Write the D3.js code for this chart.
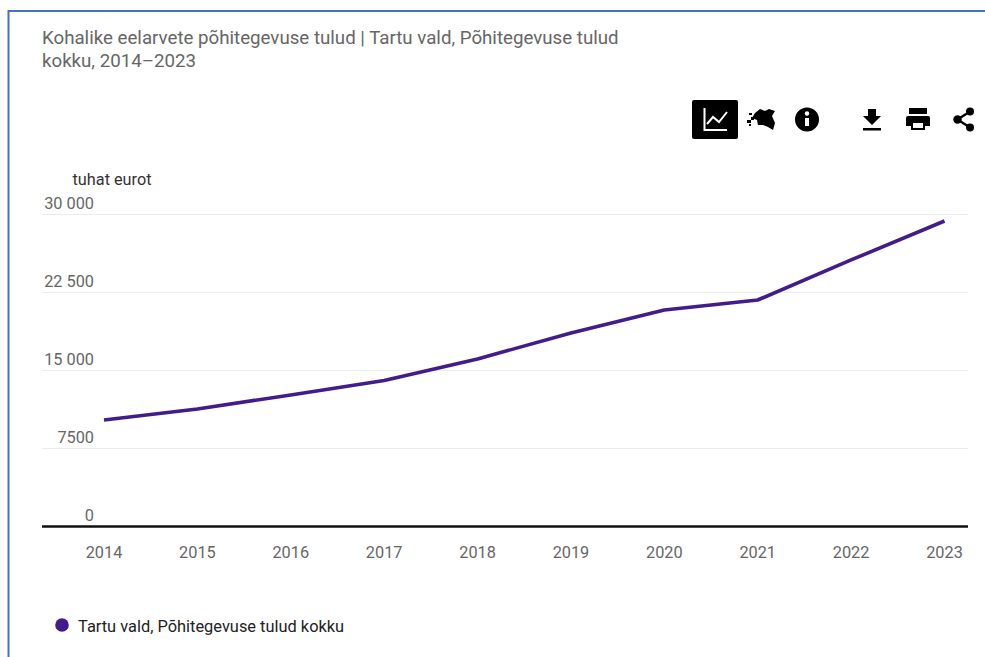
<!DOCTYPE html>
<html>
<head>
<meta charset="utf-8">
<script src="https://cdn.jsdelivr.net/npm/d3@7"></script>
<style>
  html, body { margin: 0; padding: 0; background: #fff; overflow: hidden; }
  text { font-family: Roboto, sans-serif; }
</style>
</head>
<body>
<div id="chart"></div>
<script>
// DATA

const years = [2014, 2015, 2016, 2017, 2018, 2019, 2020, 2021, 2022, 2023];
const values = [10190, 11250, 12600, 13990, 16060, 18560, 20770, 21730, 25580, 29330];
const yTicks = [0, 7500, 15000, 22500, 30000];
const yLabels = ["0", "7500", "15 000", "22 500", "30 000"];
const titleLines = [
  "Kohalike eelarvete põhitegevuse tulud | Tartu vald, Põhitegevuse tulud",
  "kokku, 2014–2023"
];
const unitLabel = "tuhat eurot";
const legendLabel = "Tartu vald, Põhitegevuse tulud kokku";

// SETUP

const width = 985, height = 657;
const purple = "#431C8C";

const svg = d3.select("#chart").append("svg")
  .attr("width", width)
  .attr("height", height)
  .style("display", "block");

const x = d3.scalePoint().domain(years).range([104, 944.5]);
const y = d3.scaleLinear().domain([0, 30000]).range([526, 214]);

// FRAME (blue border, top and left only)

svg.append("path")
  .attr("d", "M8.5,657V11H985")
  .attr("fill", "none")
  .attr("stroke", "#4472C4")
  .attr("stroke-width", 2);

// TITLE

svg.selectAll("text.title").data(titleLines).join("text")
  .attr("class", "title")
  .attr("x", 42)
  .attr("y", (d, i) => 44 + i * 23)
  .attr("fill", "#666666")
  .style("font-size", "18.7px")
  .text(d => d);

// GRID

svg.selectAll("line.grid").data(yTicks.slice(1)).join("line")
  .attr("class", "grid")
  .attr("x1", 42).attr("x2", 968)
  .attr("y1", d => y(d) + 0.5).attr("y2", d => y(d) + 0.5)
  .attr("stroke", "#EDEDED");

svg.selectAll("text.ylab").data(yTicks).join("text")
  .attr("class", "ylab")
  .attr("x", 94)
  .attr("y", d => y(d) - 5.5)
  .attr("text-anchor", "end")
  .attr("fill", "#666666")
  .style("font-size", "16.3px")
  .text((d, i) => yLabels[i]);

svg.append("text")
  .attr("x", 72.5).attr("y", 184.5)
  .attr("fill", "#333333")
  .style("font-size", "16.3px")
  .text(unitLabel);

// X AXIS

svg.append("line")
  .attr("x1", 42).attr("x2", 968)
  .attr("y1", y(0) + 0.5).attr("y2", y(0) + 0.5)
  .attr("stroke", "#111111")
  .attr("stroke-width", 2.4);

svg.selectAll("text.xlab").data(years).join("text")
  .attr("class", "xlab")
  .attr("x", d => x(d))
  .attr("y", 557.5)
  .attr("text-anchor", "middle")
  .attr("fill", "#666666")
  .style("font-size", "16.3px")
  .text(d => d);

// LINE

const line = d3.line().x((d, i) => x(years[i])).y(d => y(d));

svg.append("path")
  .datum(values)
  .attr("d", line)
  .attr("fill", "none")
  .attr("stroke", purple)
  .attr("stroke-width", 3.6)
  .attr("stroke-linejoin", "round");

// LEGEND

svg.append("circle")
  .attr("cx", 62).attr("cy", 625).attr("r", 6.8)
  .attr("fill", purple);

svg.append("text")
  .attr("x", 78).attr("y", 632)
  .attr("fill", "#222222")
  .style("font-size", "16.4px")
  .text(legendLabel);

// TOOLBAR ICONS

const tools = svg.append("g");

tools.append("rect")
  .attr("x", 692).attr("y", 100).attr("width", 46).attr("height", 39).attr("rx", 2)
  .attr("fill", "#000");

// chart icon
tools.append("path")
  .attr("d", "M704.5,108V130H727M707,124L713,117L719,122L727,112")
  .attr("fill", "none")
  .attr("stroke", "#fff")
  .attr("stroke-width", 2);

// map of Estonia
tools.append("path")
  .attr("d", "M755,113L760,109L765,111L769,109L775,111L772,116L775,123L773,130L768,127L763,125L758,125L757,120L752,118Z")
  .attr("fill", "#000");
tools.append("path")
  .attr("d", "M749,113h3v2h-3ZM751,117h3v3h-3ZM747,120h4v3h-4ZM749,124h2v2h-2Z")
  .attr("fill", "#000");

// info icon
tools.append("circle")
  .attr("cx", 807).attr("cy", 119.5).attr("r", 12)
  .attr("fill", "#000");
tools.append("rect")
  .attr("x", 805).attr("y", 118).attr("width", 4).attr("height", 8)
  .attr("fill", "#fff");
tools.append("circle")
  .attr("cx", 807).attr("cy", 113.5).attr("r", 2.2)
  .attr("fill", "#fff");

// download icon
tools.append("path")
  .attr("d", "M868,109H876V116H881L872,125L863,116H868ZM863,128H881V130.5H863Z")
  .attr("fill", "#000");

// print icon
tools.append("path")
  .attr("fill-rule", "evenodd")
  .attr("d", "M909,108H927V114H909ZM908,116H928Q930,116 930,118V126H925V130H911V126H906V118Q906,116 908,116ZM913,123V128H923V123Z")
  .attr("fill", "#000");

// share icon
tools.append("path")
  .attr("d", "M970,111.5L957.5,119.5L970,127.5")
  .attr("fill", "none")
  .attr("stroke", "#000")
  .attr("stroke-width", 2.4);
tools.selectAll("circle.share").data([[970, 111.5, 4], [957.5, 119.5, 4.2], [970, 127.5, 4]]).join("circle")
  .attr("class", "share")
  .attr("cx", d => d[0]).attr("cy", d => d[1]).attr("r", d => d[2])
  .attr("fill", "#000");
</script>
</body>
</html>
